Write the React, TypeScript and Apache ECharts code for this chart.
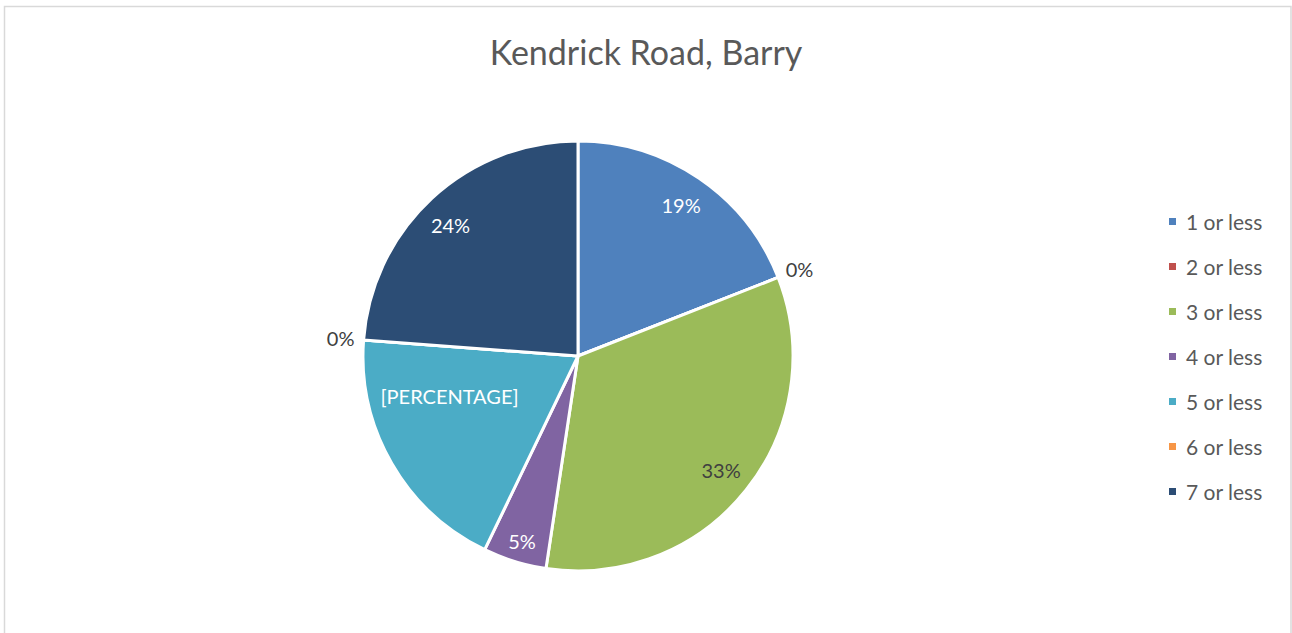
import React, { useEffect, useRef } from "react";
import * as echarts from "echarts";

const categories = ["1 or less", "2 or less", "3 or less", "4 or less", "5 or less", "6 or less", "7 or less"];
const counts = [4, 0, 7, 1, 4, 0, 5];
const colors = ["#4F81BD", "#C0504D", "#9BBB59", "#8064A2", "#4BACC6", "#F79646", "#2C4D75"];
const labelTexts: (string | null)[] = [null, null, null, null, "[PERCENTAGE]", null, null];
const labelColors = ["#FFFFFF", "#404040", "#404040", "#FFFFFF", "#FFFFFF", "#404040", "#FFFFFF"];
const titleText = "Kendrick Road, Barry";

const FONT = "Lato, 'Liberation Sans', sans-serif";

export default function App() {
  const ref = useRef<HTMLDivElement>(null);
  useEffect(() => {
    if (!ref.current) return;
    const chart = echarts.init(ref.current, undefined, { renderer: "svg" });
    const center = [578, 356];
    const pct = (p: any) => {
      const t = labelTexts[p.dataIndex];
      return t !== null ? t : `${Math.round(p.percent)}%`;
    };
    const offsets: Record<number, number[]> = { 3: [-2, 10], 4: [30, -52], 6: [-3, 3] };
    chart.setOption({
      animation: false,
      backgroundColor: "#FFFFFF",
      title: {
        text: titleText,
        left: "center",
        top: 29,
        textStyle: { fontFamily: FONT, fontSize: 34, fontWeight: "normal", color: "#595959" },
      },
      legend: {
        orient: "vertical",
        left: 1167,
        top: 211,
        padding: 0,
        itemWidth: 9,
        itemHeight: 9,
        itemGap: 24,
        icon: "rect",
        data: categories.map((c, i) => ({ name: c, itemStyle: { color: colors[i] } })),
        textStyle: { fontFamily: FONT, fontSize: 21, lineHeight: 21, color: "#595959", padding: [0, 0, 0, 4] },
        selectedMode: false,
      },
      graphic: [
        {
          type: "rect",
          shape: { x: 4.5, y: 6.5, width: 1286.5, height: 700 },
          style: { fill: "none", stroke: "#D9D9D9", lineWidth: 1.5 },
          silent: true,
        },
      ],
      series: [
        {
          type: "pie",
          center,
          radius: 215,
          startAngle: 90,
          clockwise: true,
          avoidLabelOverlap: false,
          silent: true,
          label: { show: false },
          labelLine: { show: false },
          itemStyle: { borderColor: "#FFFFFF", borderWidth: 3 },
          data: categories.map((c, i) => ({ name: c, value: counts[i], itemStyle: { color: colors[i] } })),
        },
        {
          type: "pie",
          center,
          radius: [145, 215],
          startAngle: 90,
          clockwise: true,
          avoidLabelOverlap: false,
          silent: true,
          labelLine: { show: false },
          itemStyle: { color: "transparent", borderWidth: 0 },
          label: { show: true, position: "inside", formatter: pct, fontFamily: FONT, fontSize: 20 },
          data: categories.map((c, i) => ({
            name: c,
            value: counts[i],
            itemStyle: { color: "transparent" },
            label: {
              show: counts[i] !== 0,
              color: labelColors[i],
              offset: offsets[i] || [0, 0],
            },
          })),
        },
        {
          type: "pie",
          center,
          radius: [215, 255],
          startAngle: 90,
          clockwise: true,
          avoidLabelOverlap: false,
          silent: true,
          labelLine: { show: false },
          itemStyle: { color: "transparent", borderWidth: 0 },
          label: { show: true, position: "inside", formatter: pct, fontFamily: FONT, fontSize: 20 },
          data: categories.map((c, i) => ({
            name: c,
            value: counts[i],
            itemStyle: { color: "transparent" },
            label: { show: counts[i] === 0, color: labelColors[i] },
          })),
        },
      ],
    });
    return () => chart.dispose();
  }, []);
  return <div ref={ref} style={{ position: "fixed", left: 0, top: 0, width: 1292, height: 633 }} />;
}
